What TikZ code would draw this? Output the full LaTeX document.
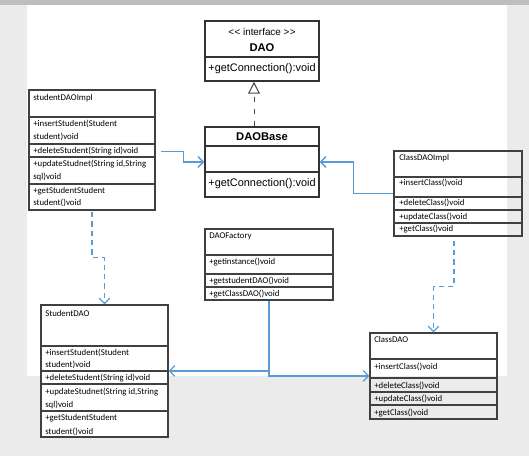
\documentclass[tikz,border=0pt]{standalone}
\usepackage{fontspec}
\setmainfont{Carlito}
\newfontfamily\arialfont{Liberation Sans}
\usepackage{xcolor}
\usepackage{tikz}
\usetikzlibrary{arrows.meta,positioning,fit}
\definecolor{wordBlue}{HTML}{5B9BD5}
\definecolor{pageGray}{HTML}{EBEBEB}
\definecolor{barGray}{HTML}{BEBEBE}
\definecolor{gridGray}{HTML}{404040}

\begin{document}
\begin{tikzpicture}[x=0.75pt,y=-0.75pt,
  tbl/.style={draw=gridGray, line width=0.8pt, inner sep=0pt},
  uml/.style={draw=black!80, line width=1.1pt, inner sep=0pt, fill=white},
  row/.style={draw=gridGray, line width=0.8pt},
  umlrow/.style={draw=black!80, line width=1.1pt},
  cell/.style={anchor=base west, inner sep=0pt, font=\fontsize{6.6}{8}\selectfont},
  ufont/.style={inner sep=0pt, font=\arialfont\fontsize{8.2}{10}\selectfont},
  link/.style={draw=wordBlue, line width=1pt, -{Straight Barb[length=4pt,width=8pt]}},
  dep/.style={link, dash pattern=on 4pt off 3pt}]
\fill[pageGray] (0,0) rectangle (529,456);
\fill[barGray] (0,0) rectangle (529,5);
\fill[white] (27,5) rectangle (507,376);

% interface and base class
\node[uml, fit={(205,21) (319,81)}] (dao) {};
\draw[umlrow] (dao.west |- 0,57) -- (dao.east |- 0,57);
\node[ufont, font=\arialfont\fontsize{7.4}{9}\selectfont] (dao-s) at (262,32) {\textless\kern0.3pt\textless{} interface \textgreater\kern0.3pt\textgreater};
\node[ufont, font=\arialfont\bfseries\fontsize{8.4}{10}\selectfont] (dao-n) at (262,48) {DAO};
\node[ufont] (dao-m) at (262,69) {+getConnection():void};

\node[uml, fit={(205,127) (319,197)}] (daobase) {};
\foreach \y in {146,172}
  \draw[umlrow] (daobase.west |- 0,\y) -- (daobase.east |- 0,\y);
\node[ufont, font=\arialfont\bfseries\fontsize{8.4}{10}\selectfont] (daobase-n) at (262,137) {DAOBase};
\node[ufont] (daobase-m) at (262,184) {+getConnection():void};

% studentDAOImpl
\node[tbl, fit={(29,90) (155,210)}] (sdi) {};
\foreach \y in {117,144,157,184}
  \draw[row] (sdi.west |- 0,\y) -- (sdi.east |- 0,\y);
\foreach \y/\t [count=\i] in {101/studentDAOImpl, 127/+insertStudent(Student, 140/student)void,
    154/+deleteStudent(String id)void, 167/{+updateStudnet(String id,String}, 180/sql)void,
    194/+getStudentStudent, 206/student()void}
  \node[cell] (sdi-\i) at (33,\y) {\t};

% ClassDAOImpl
\node[tbl, fit={(394,151) (522,236)}] (cdi) {};
\foreach \y in {177,197,210,223}
  \draw[row] (cdi.west |- 0,\y) -- (cdi.east |- 0,\y);
\foreach \y/\t [count=\i] in {161/ClassDAOImpl, 186/+insertClass()void, 206/+deleteClass()void,
    220/+updateClass()void, 232/+getClass()void}
  \node[cell] (cdi-\i) at (399,\y) {\t};

% DAOFactory
\node[tbl, fit={(205,229) (333,300)}] (fac) {};
\foreach \y in {255,274,287}
  \draw[row] (fac.west |- 0,\y) -- (fac.east |- 0,\y);
\foreach \y/\t [count=\i] in {239/DAOFactory, 265/+getinstance()void, 284/+getstudentDAO()void,
    297/+getClassDAO()void}
  \node[cell] (fac-\i) at (209,\y) {\t};

% StudentDAO
\node[tbl, fill=white, fit={(41,305) (168,437)}] (sdao) {};
\foreach \y in {346,371,384,411}
  \draw[row] (sdao.west |- 0,\y) -- (sdao.east |- 0,\y);
\foreach \y/\t [count=\i] in {316/StudentDAO, 355/+insertStudent(Student, 368/student)void,
    381/+deleteStudent(String id)void, 394/{+updateStudnet(String id,String}, 407/sql)void,
    421/+getStudentStudent, 434/student()void}
  \node[cell] (sdao-\i) at (45,\y) {\t};

% ClassDAO
\node[tbl, fit={(370,333) (497,419)}] (cdao) {};
\foreach \y in {359,378,392,405}
  \draw[row] (cdao.west |- 0,\y) -- (cdao.east |- 0,\y);
\foreach \y/\t [count=\i] in {343/ClassDAO, 369/+insertClass()void, 388/+deleteClass()void,
    402/+updateClass()void, 415/+getClass()void}
  \node[cell] (cdao-\i) at (374,\y) {\t};

% connectors
\draw[black!70, line width=0.6pt, dash pattern=on 4pt off 5pt,
  -{Triangle[open,length=9pt,width=9pt,line width=0.8pt]}] ([xshift=-6pt]daobase.north) -- ([xshift=-6pt]dao.south);
\draw[link, shorten <=4pt] (sdi.east |- sdi-4) -- ++(28,0) |- (daobase.west);
\draw[link] (cdi.west) -- ++(-40,0) |- (daobase.east);
\draw[dep, shorten <=1pt] (sdi.south) -- ++(0,47) -| (sdao.north);
\draw[dep, shorten <=3pt] ([xshift=-3pt]cdi.south) -- ++(0,50) -| (cdao.north);
\draw[link] (fac.south) |- (sdao.east);
\draw[link] (fac.south) |- (cdao.west);
\end{tikzpicture}
\end{document}
